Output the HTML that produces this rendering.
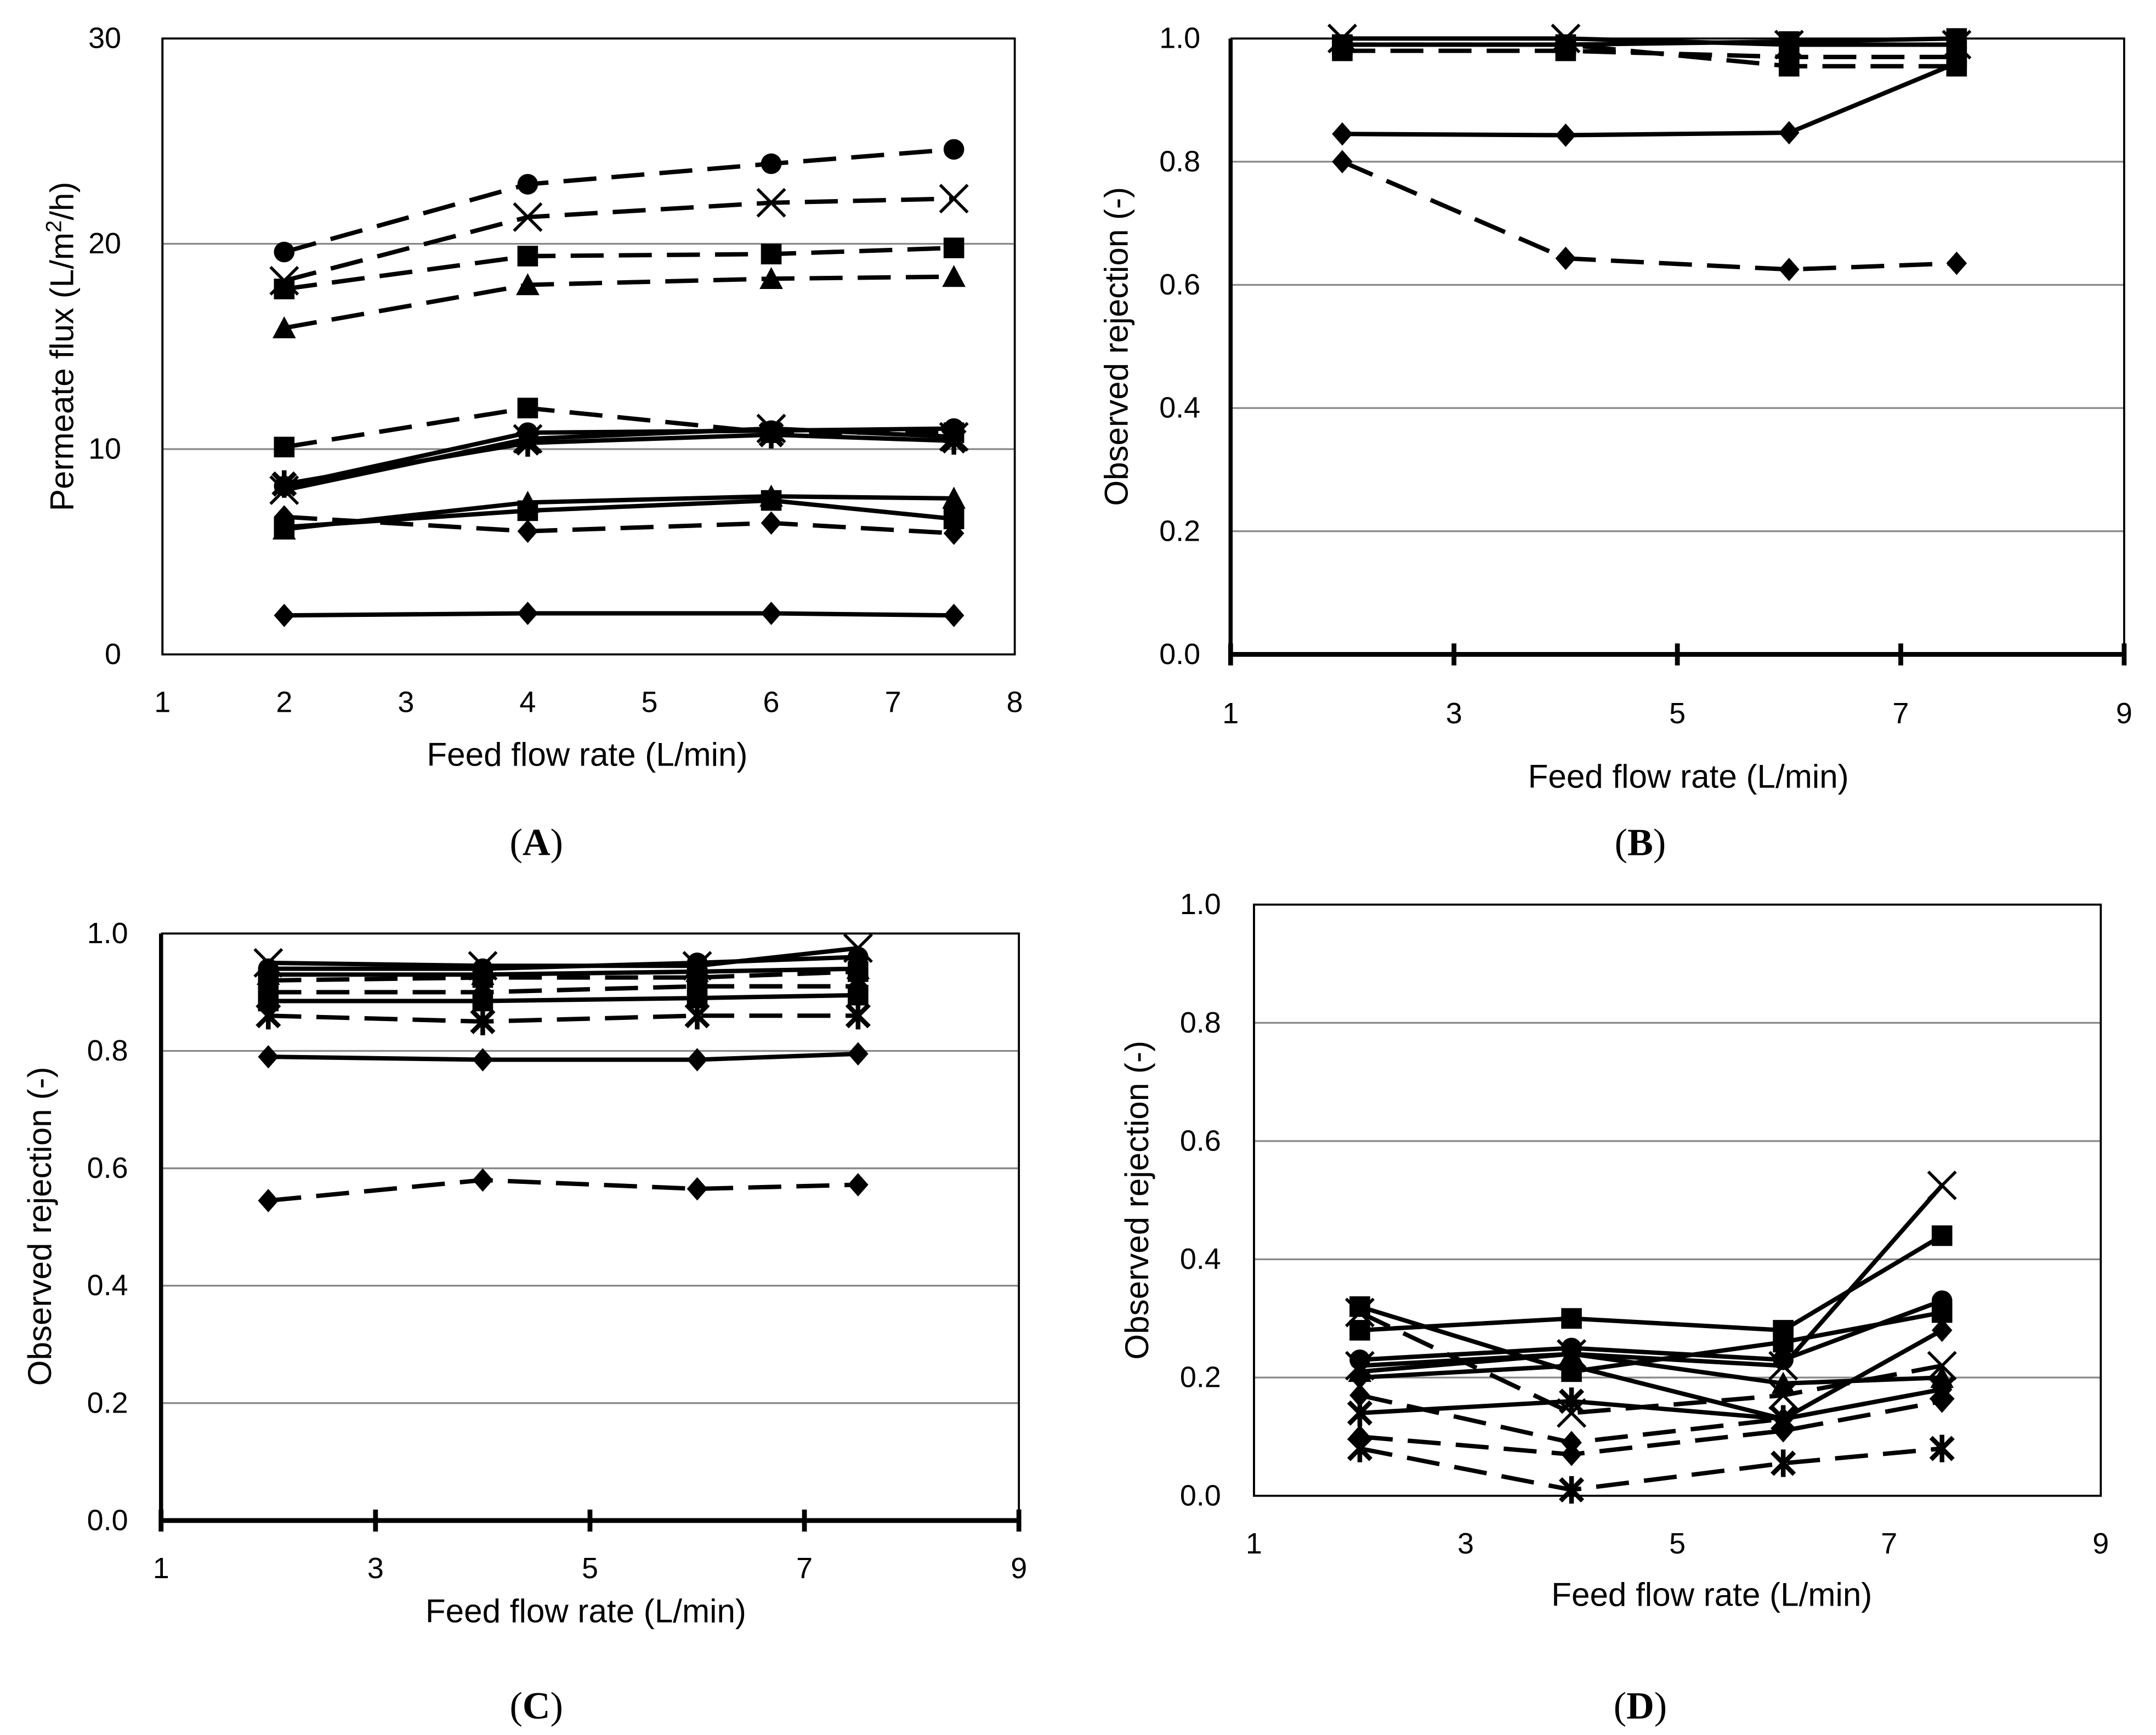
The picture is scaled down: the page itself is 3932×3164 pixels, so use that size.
<!DOCTYPE html>
<html><head><meta charset="utf-8"><style>
html,body{margin:0;padding:0;background:#fff;}
svg{display:block;}
text{font-family:"Liberation Sans",sans-serif;fill:#000;}
.cap{font-family:"Liberation Serif",serif;font-size:28px;}
</style></head><body>
<svg id="fig" width="3932" height="3164" viewBox="0 0 1568 1262" xmlns="http://www.w3.org/2000/svg"></svg>
<script>
// ---- data ----
const xCats = [2, 4, 6, 7.5];
// Panel A
const aTicksX = [1,2,3,4,5,6,7,8];
const aTicksY = [0,10,20,30];
const aMarkers = ['circle','x','square','triangle','square','circle','star','x','triangle','square','diamond','diamond'];
const aDashed = [true,true,true,true,true,false,false,false,false,false,true,false];
const aVals = [
 [19.6,22.9,23.9,24.6],
 [18.2,21.3,22.0,22.2],
 [17.8,19.4,19.5,19.8],
 [15.9,18.0,18.3,18.4],
 [10.1,12.0,10.8,10.8],
 [8.2,10.8,10.9,11.0],
 [8.3,10.3,10.7,10.4],
 [8.0,10.5,11.0,10.6],
 [6.1,7.4,7.7,7.6],
 [6.2,7.0,7.5,6.6],
 [6.7,6.0,6.4,5.9],
 [1.9,2.0,2.0,1.9]
];
// Panel B
const bTicksX = [1,3,5,7,9];
const bTicksY = [0,0.2,0.4,0.6,0.8,1.0];
const bMarkers = ['diamond','diamond','square','square','square','x'];
const bDashed = [false,true,true,false,true,false];
const bVals = [
 [0.845,0.843,0.847,0.96],
 [0.80,0.643,0.625,0.635],
 [0.99,0.99,0.955,0.955],
 [0.99,0.99,0.995,1.0],
 [0.98,0.98,0.97,0.97],
 [1.0,1.0,0.99,0.99]
];
// Panel C
const cTicksX = [1,3,5,7,9];
const cTicksY = [0,0.2,0.4,0.6,0.8,1.0];
const cMarkers = ['diamond','diamond','star','square','circle','x','square','diamond','triangle'];
const cDashed = [true,false,true,false,false,false,true,true,false];
const cVals = [
 [0.545,0.58,0.565,0.572],
 [0.79,0.785,0.785,0.795],
 [0.86,0.85,0.86,0.86],
 [0.885,0.885,0.89,0.895],
 [0.94,0.94,0.95,0.96],
 [0.95,0.945,0.945,0.975],
 [0.92,0.925,0.925,0.935],
 [0.90,0.90,0.91,0.91],
 [0.93,0.93,0.935,0.94]
];
// Panel D
const dTicksX = [1,3,5,7,9];
const dTicksY = [0,0.2,0.4,0.6,0.8,1.0];
const dMarkers = ['x','square','circle','square','diamond','star','x','diamond','diamond','star','triangle'];
const dDashed = [false,false,false,false,false,false,true,true,true,true,false];
const dVals = [
 [0.22,0.24,0.22,0.525],
 [0.28,0.30,0.28,0.44],
 [0.23,0.25,0.23,0.33],
 [0.32,0.21,0.26,0.31],
 [0.20,0.22,0.13,0.28],
 [0.14,0.16,0.13,0.18],
 [0.31,0.14,0.17,0.22],
 [0.17,0.09,0.13,0.18],
 [0.10,0.07,0.11,0.16],
 [0.08,0.01,0.055,0.08],
 [0.21,0.24,0.19,0.20]
];

const NS = 'http://www.w3.org/2000/svg';
const fig = document.getElementById('fig');
function el(tag, attrs, parent){ const e=document.createElementNS(NS,tag); for(const k in attrs) e.setAttribute(k,attrs[k]); (parent||fig).appendChild(e); return e; }

function marker(g, type, cx, cy){
  const s=7.5; let m;
  if(type==='circle') m=el('circle',{cx,cy,r:s},g);
  else if(type==='square') m=el('rect',{x:cx-s,y:cy-s,width:2*s,height:2*s},g);
  else if(type==='triangle') m=el('polygon',{points:`${cx},${cy-s-1} ${cx+s+1},${cy+s} ${cx-s-1},${cy+s}`},g);
  else if(type==='diamond') m=el('polygon',{points:`${cx},${cy-s-1} ${cx+s},${cy} ${cx},${cy+s+1} ${cx-s},${cy}`},g);
  else if(type==='x') m=el('path',{d:`M${cx-10},${cy-10}L${cx+10},${cy+10}M${cx-10},${cy+10}L${cx+10},${cy-10}`,stroke:'#000','stroke-width':2.2,fill:'none'},g);
  else if(type==='star') m=el('path',{d:`M${cx-8},${cy-8}L${cx+8},${cy+8}M${cx-8},${cy+8}L${cx+8},${cy-8}M${cx},${cy-10}L${cx},${cy+10}`,stroke:'#000','stroke-width':3.4,fill:'none'},g);
  if(m){   }
}

function panel(o){
  const g=el('g',{});
  
  
  const sx=v=>o.x0+(v-o.xmin)/(o.xmax-o.xmin)*(o.x1-o.x0);
  const sy=v=>o.y0-(v-o.ymin)/(o.ymax-o.ymin)*(o.y0-o.y1);
  o.yt.forEach(t=>{ if(t!==o.ymin){ const l=el('line',{x1:o.x0,x2:o.x1,y1:sy(t),y2:sy(t),stroke:'#888','stroke-width':1.3},g);   }});
  if(o.box){ const r=el('rect',{x:o.x0,y:o.y1,width:o.x1-o.x0,height:o.y0-o.y1,fill:'none',stroke:'#000','stroke-width':1.5},g);   }
  else {
    const r=el('polyline',{points:`${o.x0},${o.y1} ${o.x1},${o.y1} ${o.x1},${o.y0}`,fill:'none',stroke:'#000','stroke-width':1.5},g);  
    const ax=el('line',{x1:o.x0,x2:o.x1,y1:o.y0,y2:o.y0,stroke:'#000','stroke-width':3.5},g);  
    o.xt.forEach(t=>{ const tk=el('line',{x1:sx(t),x2:sx(t),y1:o.y0-8,y2:o.y0+8,stroke:'#000','stroke-width':3.5},g);   });
  }
  const yax=el('line',{x1:o.x0,x2:o.x0,y1:o.y1,y2:o.y0,stroke:'#000','stroke-width':o.box?1.5:3},g);  
  o.xt.forEach(t=>{ const tx=el('text',{x:sx(t),y:o.y0+o.xlOff,'text-anchor':'middle','font-size':21.5},g); tx.textContent=t;   });
  o.yt.forEach(t=>{ const tx=el('text',{x:o.x0-o.ylOff,y:sy(t)+7,'text-anchor':'end','font-size':21.5},g); tx.textContent=o.yfmt(t);   });
  o.vals.forEach((s,i)=>{
    const sg=el('g',{},g);  
    const pts=s.map((v,j)=>sx(xCats[j])+','+sy(v)).join(' ');
    const ln=el('polyline',{points:pts,fill:'none',stroke:'#000','stroke-width':3.2,'stroke-dasharray':o.dashed[i]?'24,11':'none'},sg);
     
    s.forEach((v,j)=>marker(sg,o.markers[i],sx(xCats[j]),sy(v)));
  });
  const xt=el('text',{x:o.xtX,y:o.xtY,'text-anchor':'middle','font-size':24},g); xt.textContent=o.xTitle;  
  const yt=el('text',{x:0,y:0,'text-anchor':'middle','font-size':24,transform:`translate(${o.ytX},${o.ytY}) rotate(-90)`},g); yt.innerHTML=o.yTitle;  
  const cp=el('text',{x:o.capX,y:o.capY,'text-anchor':'middle',class:'cap'},g); cp.innerHTML=o.cap;  
}

panel({name:'panel-a-flux-chart',x0:118,x1:738,y0:476,y1:28,xmin:1,xmax:8,ymin:0,ymax:30,xt:aTicksX,yt:aTicksY,box:true,xlOff:42,ylOff:30,yfmt:t=>t,
  vals:aVals,markers:aMarkers,dashed:aDashed,xTitle:'Feed flow rate (L/min)',xtX:427,xtY:557,
  yTitle:'Permeate flux (L/m<tspan baseline-shift="super" font-size="16">2</tspan>/h)',ytX:53,ytY:252,cap:'(<tspan font-weight="bold">A</tspan>)',capX:390,capY:622});
panel({name:'panel-b-rejection-chart',x0:895,x1:1545,y0:476,y1:28,xmin:1,xmax:9,ymin:0,ymax:1,xt:bTicksX,yt:bTicksY,box:false,xlOff:50,ylOff:22,yfmt:t=>t.toFixed(1),
  vals:bVals,markers:bMarkers,dashed:bDashed,xTitle:'Feed flow rate (L/min)',xtX:1228,xtY:573,
  yTitle:'Observed rejection (-)',ytX:820,ytY:252,cap:'(<tspan font-weight="bold">B</tspan>)',capX:1193,capY:622});
panel({name:'panel-c-rejection-chart',x0:117,x1:741,y0:1106,y1:679,xmin:1,xmax:9,ymin:0,ymax:1,xt:cTicksX,yt:cTicksY,box:false,xlOff:42,ylOff:24,yfmt:t=>t.toFixed(1),
  vals:cVals,markers:cMarkers,dashed:cDashed,xTitle:'Feed flow rate (L/min)',xtX:426,xtY:1180,
  yTitle:'Observed rejection (-)',ytX:37,ytY:892,cap:'(<tspan font-weight="bold">C</tspan>)',capX:390,capY:1250});
panel({name:'panel-d-rejection-chart',x0:912,x1:1528,y0:1088,y1:658,xmin:1,xmax:9,ymin:0,ymax:1,xt:dTicksX,yt:dTicksY,box:true,xlOff:42,ylOff:24,yfmt:t=>t.toFixed(1),
  vals:dVals,markers:dMarkers,dashed:dDashed,xTitle:'Feed  flow rate (L/min)',xtX:1245,xtY:1168,
  yTitle:'Observed rejection (-)',ytX:835,ytY:873,cap:'(<tspan font-weight="bold">D</tspan>)',capX:1193,capY:1250});
</script>
</body></html>
